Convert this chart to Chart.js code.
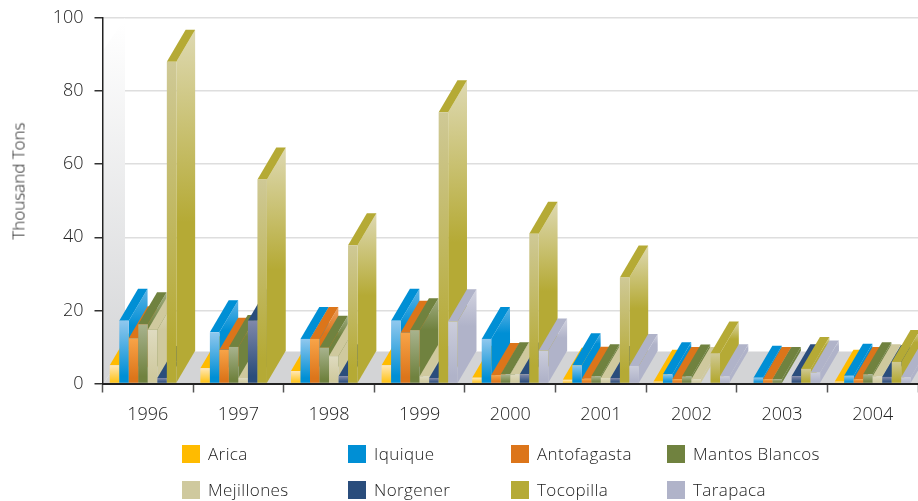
<!DOCTYPE html>
<html>
<head>
<meta charset="utf-8">
<script src="https://cdn.jsdelivr.net/npm/chart.js@4"></script>
<style>
  html, body { margin: 0; padding: 0; background: #fff; }
  #wrap { position: relative; width: 918px; height: 501px; overflow: hidden; font-family: "Open Sans", sans-serif; font-weight: 300; color: #222; }
  #chart { position: absolute; left: 0; top: 0; }
  #yTitle { position: absolute; left: 18px; top: 181px; transform: translate(-50%, -50%) rotate(-90deg); font-size: 17px; white-space: nowrap; }
  #legend { position: absolute; left: 182px; top: 444px; display: grid; grid-template-columns: 166px 163px 156px 160px; grid-auto-rows: 36px; font-size: 17px; letter-spacing: 0.4px; }
  #legend div { display: flex; align-items: center; height: 20px; white-space: nowrap; }
  #legend i { display: inline-block; width: 18px; height: 18px; margin-right: 8px; }
  #legend span { position: relative; top: -1px; }
</style>
</head>
<body>
<div id="wrap">
  <canvas id="chart" width="918" height="501"></canvas>
  <div id="yTitle">Thousand Tons</div>
  <div id="legend"></div>
</div>
<script>
const years = ['1996', '1997', '1998', '1999', '2000', '2001', '2002', '2003', '2004'];
const yTicks = [0, 20, 40, 60, 80, 100];

const arica       = [5.0, 4.2, 3.4, 5.0, 1.6, 1.0, 0.5, 0, 0.5];
const iquique     = [17.2, 14.0, 12.2, 17.2, 12.2, 5.0, 2.5, 1.6, 2.1];
const antofagasta = [12.4, 9.2, 12.2, 13.9, 2.3, 1.3, 1.2, 1.2, 1.2];
const mantos      = [16.2, 10.0, 9.8, 14.6, 2.5, 2.0, 1.9, 1.2, 2.5];
const mejillones  = [14.7, 1.5, 7.5, 2.0, 2.5, 1.5, 1.2, 0, 2.0];
const norgener    = [1.5, 17.2, 2.0, 1.5, 2.5, 1.5, 0, 2.0, 1.8];
const tocopilla   = [88, 55.8, 37.8, 74.2, 41, 29, 8.2, 4.0, 5.9];
const tarapaca    = [0, 0, 0, 17, 9, 4.8, 2, 3, 1.7];

const names = ['Arica', 'Iquique', 'Antofagasta', 'Mantos Blancos', 'Mejillones', 'Norgener', 'Tocopilla', 'Tarapaca'];
const series = [arica, iquique, antofagasta, mantos, mejillones, norgener, tocopilla, tarapaca];

// solid colour (top face + legend), light end of the gradient, dark end of the gradient
const topColors   = ['#ffbb00', '#008fd5', '#dc751a', '#70823f', '#cfc99e', '#2a4d7c', '#b5aa35', '#b0b3c9'];
const frontLight  = ['#ffe8b8', '#90c8ee', '#f8a448', '#a8b38e', '#dfdbc0', '#8088aa', '#cfc996', '#cbcddb'];
const frontDark   = ['#ffc520', '#008fd5', '#dc751a', '#70823f', '#cfc99e', '#2a4d7c', '#b5aa35', '#b0b3c9'];
const sideLight   = ['#ffdf90', '#60b4e6', '#eca060', '#a0ac80', '#e2dfc6', '#6a7aa0', '#ded9b2', '#d2d3e0'];

const DEPTH_X = 18.8;
const DEPTH_Y = 32;

function frontGradient(ctx) {
  const chart = ctx.chart;
  const fallback = frontDark[ctx.datasetIndex];
  if (ctx.type !== 'data' || !ctx.parsed || !chart.scales.y) return fallback;
  const top = chart.scales.y.getPixelForValue(ctx.parsed.y);
  const base = chart.scales.y.getPixelForValue(0);
  if (!Number.isFinite(top) || !Number.isFinite(base)) return fallback;
  const g = chart.ctx.createLinearGradient(0, top, 0, Math.max(base, top + 1));
  g.addColorStop(0, frontLight[ctx.datasetIndex]);
  g.addColorStop(0.88, frontDark[ctx.datasetIndex]);
  g.addColorStop(1, frontDark[ctx.datasetIndex]);
  return g;
}

function drawFaces(c, el, i) {
  const l = el.x - el.width / 2;
  const r = el.x + el.width / 2;
  const side = c.createLinearGradient(0, el.y - DEPTH_Y, 0, el.base - DEPTH_Y);
  side.addColorStop(0, sideLight[i]);
  side.addColorStop(0.6, frontDark[i]);
  side.addColorStop(1, frontDark[i]);
  c.fillStyle = side;
  c.beginPath();
  c.moveTo(r, el.y);
  c.lineTo(r + DEPTH_X, el.y - DEPTH_Y);
  c.lineTo(r + DEPTH_X, el.base - DEPTH_Y);
  c.lineTo(r, el.base);
  c.closePath();
  c.fill();
  c.fillStyle = topColors[i];
  c.beginPath();
  c.moveTo(l, el.y);
  c.lineTo(l + DEPTH_X, el.y - DEPTH_Y);
  c.lineTo(r + DEPTH_X, el.y - DEPTH_Y);
  c.lineTo(r, el.y);
  c.closePath();
  c.fill();
}

// box first, then every bar left to right so each one hides the side of the one before
const bar3d = {
  id: 'bar3d',
  beforeDatasetsDraw(chart) {
    const c = chart.ctx;
    const { left, right, top, bottom } = chart.chartArea;
    const wall = c.createLinearGradient(0, top + 6, 0, bottom);
    wall.addColorStop(0, '#ffffff');
    wall.addColorStop(1, '#d3d4d6');
    c.save();
    c.fillStyle = wall;
    c.beginPath();
    c.moveTo(left + 1, bottom);
    c.lineTo(left + 1, top + 32);
    c.lineTo(left + 22.5, top);
    c.lineTo(left + 22.5, bottom - DEPTH_Y);
    c.closePath();
    c.fill();
    c.fillStyle = '#d3d4d6';
    c.beginPath();
    c.moveTo(left + 1, bottom);
    c.lineTo(left + 22.5, bottom - DEPTH_Y);
    c.lineTo(right, bottom - DEPTH_Y);
    c.lineTo(right, bottom);
    c.closePath();
    c.fill();

    years.forEach((year, j) => {
      series.forEach((values, i) => {
        const el = chart.getDatasetMeta(i).data[j];
        if (Math.abs(el.base - el.y) < 0.5) return;
        drawFaces(c, el, i);
        el.draw(c);
      });
    });
    c.restore();
  },
  // already painted above
  beforeDatasetDraw() {
    return false;
  },
};

const tickFont = { family: '"Open Sans", sans-serif', size: 18, weight: '300' };

new Chart(document.getElementById('chart'), {
  type: 'bar',
  data: {
    labels: years,
    datasets: series.map((values, i) => ({
      label: names[i],
      data: values,
      backgroundColor: frontGradient,
      borderWidth: 0,
      barPercentage: 1,
      categoryPercentage: 0.84,
    })),
  },
  options: {
    responsive: false,
    animation: false,
    layout: { padding: { top: 18, right: 0, bottom: 0, left: 0 } },
    plugins: { legend: { display: false }, tooltip: { enabled: false } },
    scales: {
      x: {
        afterFit: (s) => { s.height = 117.5; s.paddingLeft = 0; s.paddingRight = 0; },
        grid: { drawOnChartArea: false, tickColor: '#555', tickWidth: 1.5, tickLength: 9 },
        border: { color: '#222', width: 2, z: 1 },
        ticks: { color: '#222', font: tickFont, padding: 12 },
      },
      y: {
        min: 0,
        max: 100,
        afterFit: (s) => { s.width = 102.5; s.paddingTop = 0; s.paddingBottom = 0; },
        afterBuildTicks: (s) => { s.ticks = yTicks.map((v) => ({ value: v })); },
        grid: { color: '#dedede', lineWidth: 1.5, tickColor: '#333', tickWidth: 1.5, tickLength: 8 },
        border: { color: '#222', width: 1.5, z: 1 },
        ticks: { color: '#222', font: tickFont, padding: 11 },
      },
    },
  },
  plugins: [bar3d],
});

// legend, same reading order as the datasets
const legend = document.getElementById('legend');
names.forEach((name, i) => {
  const item = document.createElement('div');
  const swatch = document.createElement('i');
  swatch.style.background = topColors[i];
  const label = document.createElement('span');
  label.textContent = name;
  item.appendChild(swatch);
  item.appendChild(label);
  legend.appendChild(item);
});
</script>
</body>
</html>
